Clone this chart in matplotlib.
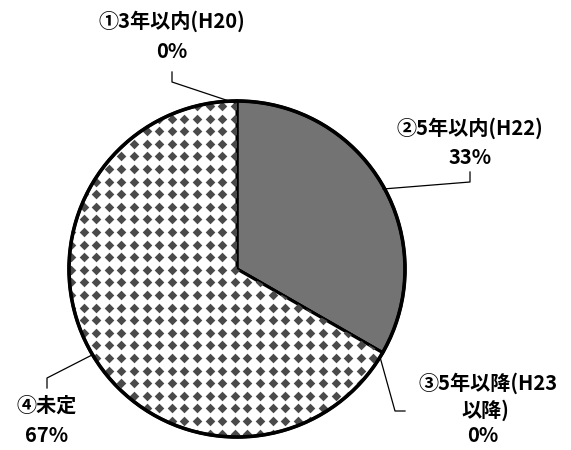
import matplotlib
matplotlib.use("Agg")
import matplotlib.pyplot as plt
import numpy as np

labels = ["①3年以内(H20)", "②5年以内(H22)", "③5年以降(H23\n以降)", "④未定"]
values = [0.0, 33.3, 0.0, 66.7]
pct_text = ["0%", "33%", "0%", "67%"]

plt.rcParams['font.family'] = ['Noto Sans CJK JP', 'DejaVu Sans']

fig = plt.figure(figsize=(5.71, 4.5), dpi=100)
ax = fig.add_axes([0, 0, 1, 1])

cx, cy, r = 237, 269, 168
colors = ['white', '#737373', 'white', 'white']
wedges, _ = ax.pie(values, colors=colors, startangle=-90, counterclock=True,
                   center=(cx, cy), radius=r, frame=True,
                   wedgeprops=dict(edgecolor='black', linewidth=2.2))
ax.set_xlim(0, 571)
ax.set_ylim(450, 0)
ax.set_aspect('equal')
ax.axis('off')

# diamond texture for the "未定" slice
gx, gy = np.meshgrid(np.arange(cx - r, cx + r, 12.6) + 2, np.arange(cy - r, cy + r, 12.6) + 5)
dots = ax.scatter(gx.ravel(), gy.ravel(), marker='D', s=24, color='#4a4a4a', linewidths=0, zorder=3)
dots.set_clip_path(wedges[3])

outline = plt.Circle((cx, cy), r, fill=False, edgecolor='black', linewidth=2.6, zorder=4)
ax.add_patch(outline)

fs = 14.5
tk = dict(ha='center', va='center', fontsize=fs, fontweight='bold')
# label 1
ax.text(172, 21, labels[0], **tk)
ax.text(172, 52, pct_text[0], **tk)
ax.plot([172, 172, 235], [72, 82, 103], color='black', lw=0.9, zorder=5)
# label 2
ax.text(470, 128, labels[1], **tk)
ax.text(470, 157, pct_text[1], **tk)
ax.plot([470, 470, 383], [172, 182, 189], color='black', lw=0.9, zorder=5)
# label 3
ax.text(488, 383, "③5年以降(H23", **tk)
ax.text(485, 410, "以降)", **tk)
ax.text(483, 436, pct_text[2], **tk)
ax.plot([380, 395, 405], [357, 411, 411], color='black', lw=0.9, zorder=5)
# label 4
ax.text(47, 405, labels[3], **tk)
ax.text(47, 435, pct_text[3], **tk)
ax.plot([47, 47, 92], [388, 378, 355], color='black', lw=0.9, zorder=5)

fig.savefig("out.png", dpi=100)
